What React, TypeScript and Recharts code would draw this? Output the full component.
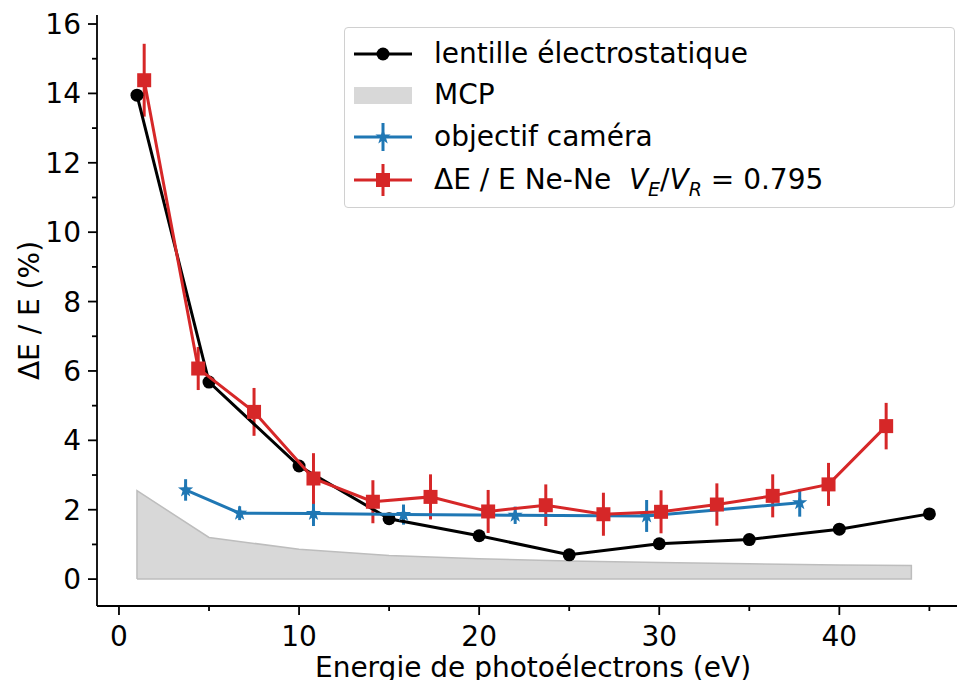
import {
  ComposedChart,
  Area,
  Scatter,
  ErrorBar,
  XAxis,
  YAxis,
} from "recharts";

// lentille électrostatique
const lensX = [1, 5, 10, 15, 20, 25, 30, 35, 40, 45];
const lensY = [13.95, 5.68, 3.26, 1.74, 1.25, 0.7, 1.02, 1.14, 1.44, 1.88];

// MCP
const mcpX = [1, 5, 10, 15, 20, 25, 30, 35, 40, 44];
const mcpY = [2.55, 1.2, 0.86, 0.68, 0.59, 0.52, 0.48, 0.44, 0.41, 0.39];

// objectif caméra
const camX = [3.7, 6.7, 10.8, 15.8, 22.0, 29.3, 37.8];
const camY = [2.57, 1.9, 1.89, 1.86, 1.84, 1.82, 2.2];
const camErr = [0.31, 0.2, 0.36, 0.29, 0.25, 0.46, 0.4];

// ΔE / E Ne-Ne
const neX = [1.4, 4.4, 7.5, 10.8, 14.1, 17.3, 20.5, 23.7, 26.9, 30.1, 33.2, 36.3, 39.4, 42.6];
const neY = [14.38, 6.07, 4.82, 2.9, 2.23, 2.37, 1.95, 2.13, 1.87, 1.94, 2.15, 2.4, 2.73, 4.41];
const neErr = [1.05, 0.62, 0.69, 0.73, 0.62, 0.65, 0.62, 0.6, 0.62, 0.62, 0.61, 0.62, 0.62, 0.67];

const xTicks = [0, 5, 10, 15, 20, 25, 30, 35, 40, 45];
const yTicks = [0, 1, 2, 3, 4, 5, 6, 7, 8, 9, 10, 11, 12, 13, 14, 15, 16];

const BLUE = "#1f77b4";
const RED = "#d62728";
const GREY = "#d8d8d8";
const FS = 28;

const lensData = lensX.map((x, i) => ({ x, y: lensY[i] }));
const mcpData = mcpX.map((x, i) => ({ x, mcp: mcpY[i] }));
const mcpOutline = [
  { x: mcpX[0], y: 0 },
  ...mcpX.map((x, i) => ({ x, y: mcpY[i] })),
  { x: mcpX[mcpX.length - 1], y: 0 },
  { x: mcpX[0], y: 0 },
];
const camData = camX.map((x, i) => ({ x, y: camY[i], err: camErr[i] }));
const neData = neX.map((x, i) => ({ x, y: neY[i], err: neErr[i] }));

const starPoints = (cx: number, cy: number, r: number) => {
  const pts = [];
  for (let k = 0; k < 10; k++) {
    const rad = k % 2 === 0 ? r : r * 0.4;
    const a = -Math.PI / 2 + (k * Math.PI) / 5;
    pts.push(`${cx + rad * Math.cos(a)},${cy + rad * Math.sin(a)}`);
  }
  return pts.join(" ");
};

const Dot = (p: any) => <circle cx={p.cx} cy={p.cy} r={6.5} fill="#000" />;
const Square = (p: any) => (
  <rect x={p.cx - 7} y={p.cy - 7} width={14} height={14} fill={RED} />
);
const Star = (p: any) => <polygon points={starPoints(p.cx, p.cy, 8)} fill={BLUE} />;
const NoShape = () => <g />;

const XTick = ({ x, y, payload }: any) => {
  const major = payload.value % 10 === 0;
  return (
    <g>
      <line x1={x} x2={x} y1={y} y2={y + (major ? 9 : 5)} stroke="#000" strokeWidth={1.8} />
      {major && (
        <text x={x} y={y + 40} textAnchor="middle" fontSize={FS} fill="#000">
          {payload.value}
        </text>
      )}
    </g>
  );
};

const YTick = ({ x, y, payload }: any) => {
  const major = payload.value % 2 === 0;
  return (
    <g>
      <line x1={x} x2={x - (major ? 9 : 5)} y1={y} y2={y} stroke="#000" strokeWidth={1.8} />
      {major && (
        <text x={x - 16} y={y + 10} textAnchor="end" fontSize={FS} fill="#000">
          {payload.value}
        </text>
      )}
    </g>
  );
};

const legendRow: React.CSSProperties = {
  position: "absolute",
  left: 0,
  height: 42,
  display: "flex",
  alignItems: "center",
};

const Legend = () => (
  <div
    style={{
      position: "absolute",
      left: 344,
      top: 27,
      width: 611,
      height: 181,
      border: "1.6px solid #d0d0d0",
      borderRadius: 4,
      background: "rgba(255,255,255,0.85)",
      boxSizing: "border-box",
      fontSize: FS,
      lineHeight: "42px",
      color: "#000",
    }}
  >
    {[
      { top: 5, label: <span>lentille électrostatique</span>, kind: "lens" },
      { top: 46, label: <span>MCP</span>, kind: "mcp" },
      { top: 88, label: <span>objectif caméra</span>, kind: "cam" },
      {
        top: 131,
        label: (
          <span style={{ whiteSpace: "pre" }}>
            {"ΔE / E Ne-Ne  "}
            <i>V</i>
            <sub style={{ fontSize: 19, fontStyle: "italic", lineHeight: 0 }}>E</sub>
            {"/"}
            <i>V</i>
            <sub style={{ fontSize: 19, fontStyle: "italic", lineHeight: 0 }}>R</sub>
            {" = 0.795"}
          </span>
        ),
        kind: "ne",
      },
    ].map((r) => (
      <div key={r.kind} style={{ ...legendRow, top: r.top }}>
        <svg width={80} height={42}>
          {r.kind === "lens" && (
            <>
              <line x1={9} x2={67} y1={21} y2={21} stroke="#000" strokeWidth={3} />
              <circle cx={38} cy={21} r={6.5} fill="#000" />
            </>
          )}
          {r.kind === "mcp" && <rect x={9} y={13} width={58} height={17} fill={GREY} />}
          {r.kind === "cam" && (
            <>
              <line x1={9} x2={67} y1={21} y2={21} stroke={BLUE} strokeWidth={3} />
              <line x1={38} x2={38} y1={7} y2={35} stroke={BLUE} strokeWidth={3} />
              <polygon points={starPoints(38, 21, 8)} fill={BLUE} />
            </>
          )}
          {r.kind === "ne" && (
            <>
              <line x1={9} x2={67} y1={21} y2={21} stroke={RED} strokeWidth={3} />
              <line x1={38} x2={38} y1={5} y2={37} stroke={RED} strokeWidth={3} />
              <rect x={31} y={14} width={14} height={14} fill={RED} />
            </>
          )}
        </svg>
        <div style={{ marginLeft: 9 }}>{r.label}</div>
      </div>
    ))}
  </div>
);

export default function App() {
  return (
    <div
      style={{
        position: "fixed",
        left: 0,
        top: 0,
        width: 957,
        height: 680,
        overflow: "hidden",
        background: "#fff",
        fontFamily: "'DejaVu Sans', sans-serif",
      }}
    >
      <ComposedChart
        width={990}
        height={680}
        data={mcpData}
        margin={{ top: 15, right: 21, left: 0, bottom: 0 }}
      >
        <XAxis
          dataKey="x"
          type="number"
          domain={[-1.22, 47.2]}
          ticks={xTicks}
          interval={0}
          allowDataOverflow
          height={74}
          tickSize={0}
          tickMargin={0}
          tickLine={false}
          tick={<XTick />}
          axisLine={{ stroke: "#000", strokeWidth: 1.8 }}
          label={{
            value: "Energie de photoélectrons (eV)",
            position: "insideBottom",
            offset: 3,
            fontSize: FS,
            fill: "#000",
          }}
        />
        <XAxis
          xAxisId="top"
          orientation="top"
          type="number"
          domain={[-1.22, 47.2]}
          height={0}
          tick={false}
          tickLine={false}
          axisLine={{ stroke: "#000", strokeWidth: 1.8 }}
        />
        <YAxis
          dataKey="y"
          type="number"
          domain={[-0.775, 16.26]}
          ticks={yTicks}
          interval={0}
          allowDataOverflow
          width={97}
          tickSize={0}
          tickMargin={0}
          tickLine={false}
          tick={<YTick />}
          axisLine={{ stroke: "#000", strokeWidth: 1.8 }}
          label={{
            value: "ΔE / E (%)",
            angle: -90,
            position: "insideLeft",
            offset: 29,
            style: { textAnchor: "middle" },
            fontSize: FS,
            fill: "#000",
          }}
        />
        <Area
          type="linear"
          dataKey="mcp"
          baseValue={0}
          fill={GREY}
          fillOpacity={1}
          stroke="none"
          isAnimationActive={false}
        />
        <Scatter
          data={mcpOutline}
          shape={<NoShape />}
          line={{ stroke: "#bdbdbd", strokeWidth: 1.5 }}
          lineType="joint"
          isAnimationActive={false}
        />
        <Scatter
          data={lensData}
          shape={<Dot />}
          line={{ stroke: "#000", strokeWidth: 3 }}
          lineType="joint"
          isAnimationActive={false}
        />
        <Scatter
          data={camData}
          shape={<Star />}
          line={{ stroke: BLUE, strokeWidth: 3 }}
          lineType="joint"
          isAnimationActive={false}
        >
          <ErrorBar dataKey="err" direction="y" width={0} stroke={BLUE} strokeWidth={3} isAnimationActive={false} />
        </Scatter>
        <Scatter
          data={neData}
          shape={<Square />}
          line={{ stroke: RED, strokeWidth: 3 }}
          lineType="joint"
          isAnimationActive={false}
        >
          <ErrorBar dataKey="err" direction="y" width={0} stroke={RED} strokeWidth={3} isAnimationActive={false} />
        </Scatter>
      </ComposedChart>
      <Legend />
    </div>
  );
}
